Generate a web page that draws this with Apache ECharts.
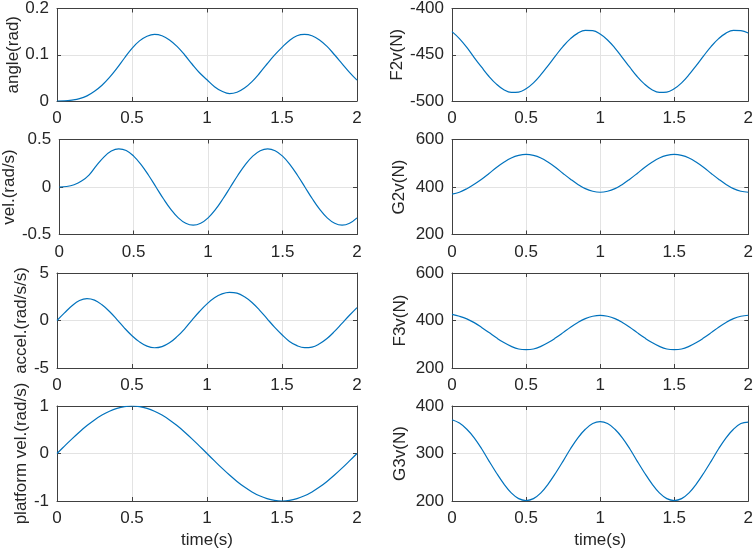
<!DOCTYPE html>
<html>
<head>
<meta charset="utf-8">
<script src="https://cdn.jsdelivr.net/npm/echarts@6/dist/echarts.min.js"></script>
<style>
html,body{margin:0;padding:0;background:#fff;}
#chart{width:756px;height:552px;}
</style>
</head>
<body>
<div id="chart"></div>
<script>
// ---- data ----
const time = [0,0.05,0.1,0.15,0.2,0.25,0.3,0.35,0.4,0.45,0.5,0.55,0.6,0.65,0.7,0.75,0.8,0.85,0.9,0.95,1,1.05,1.1,1.15,1.2,1.25,1.3,1.35,1.4,1.45,1.5,1.55,1.6,1.65,1.7,1.75,1.8,1.85,1.9,1.95,2];
const xTicks = [0, 0.5, 1, 1.5, 2];

const angle = [0,0.0003,0.002,0.005,0.011,0.021,0.034,0.051,0.071,0.093,0.114,0.130,0.140,0.144,0.141,0.132,0.118,0.100,0.080,0.061,0.046,0.031,0.021,0.016,0.019,0.028,0.042,0.060,0.080,0.099,0.116,0.131,0.141,0.144,0.141,0.132,0.118,0.100,0.081,0.062,0.045];
const vel = [0,0.005,0.024,0.062,0.125,0.225,0.315,0.378,0.402,0.385,0.325,0.236,0.124,0,-0.124,-0.236,-0.325,-0.382,-0.402,-0.382,-0.325,-0.236,-0.124,0,0.124,0.236,0.325,0.382,0.402,0.382,0.325,0.236,0.124,0,-0.124,-0.236,-0.325,-0.382,-0.402,-0.382,-0.325];
const accel = [0,0.8,1.55,2.1,2.31,2.15,1.65,0.95,0.1,-0.8,-1.6,-2.25,-2.7,-2.87,-2.75,-2.35,-1.7,-0.9,0.05,0.95,1.75,2.4,2.8,2.96,2.88,2.5,1.9,1.1,0.2,-0.7,-1.5,-2.2,-2.65,-2.86,-2.8,-2.45,-1.9,-1.15,-0.3,0.55,1.36];
const platformVel = [0,0.156,0.309,0.454,0.588,0.707,0.809,0.891,0.951,0.988,1,0.988,0.951,0.891,0.809,0.707,0.588,0.454,0.309,0.156,0,-0.156,-0.309,-0.454,-0.588,-0.707,-0.809,-0.891,-0.951,-0.988,-1,-0.988,-0.951,-0.891,-0.809,-0.707,-0.588,-0.454,-0.309,-0.156,0];
const F2v = [-425,-432.5,-442,-453,-463.5,-473.5,-481.8,-487.8,-490.7,-490.4,-486.8,-480.4,-471.6,-461.4,-450.9,-440.9,-432.6,-426.6,-423.7,-424,-427.6,-434,-442.8,-453,-463.5,-473.5,-481.8,-487.8,-490.7,-490.4,-486.8,-480.4,-471.6,-461.4,-450.9,-440.9,-432.6,-426.6,-423.7,-424,-426.5];
const G2v = [370,378,393,412,433,457,482,504,522,533,537,533,522,504,482,457,433,411,393,382,378,382,393,411,433,457,482,504,522,533,537,533,522,504,482,457,433,411,393,382,378];
const F3v = [426,418,407,391,371,349,327,307,291,280,277,280,291,307,327,349,372,392,408,418,422,418,408,392,372,349,327,307,291,280,277,280,291,307,327,349,372,392,408,418,422];
const G3v = [371,364,351,333,310,284,259,236,217,205,201,205,217,236,259,284,310,333,351,363,367,363,351,333,310,284,259,236,217,205,201,205,217,236,259,284,310,333,351,363,366];

const yNames = ['angle(rad)','vel.(rad/s)','accel.(rad/s/s)','platform vel.(rad/s)','F2v(N)','G2v(N)','F3v(N)','G3v(N)'];
const yMin = [0,-0.5,-5,-1,-500,200,200,200];
const yMax = [0.2,0.5,5,1,-400,600,600,400];
const yStep = [0.1,0.5,5,1,50,200,200,100];
const seriesData = [angle, vel, accel, platformVel, F2v, G2v, F3v, G3v];
const xName = 'time(s)';

// ---- layout ----
const colLeft = [57, 452];
const colWidth = [300, 298];
const rowTop = [6, 139.5, 273, 406];
const rowH = 95;
const nameGaps = [31, 40, 25, 25, 44, 44, 43, 43];

const FONT = "'Liberation Sans', Arial, Helvetica, sans-serif";
const TXT = '#262626';
const AX = '#404040';
const GRIDC = '#e3e3e3';
const FS = 17;

const grids = [], xAxes = [], yAxes = [], series = [];
for (let i = 0; i < 8; i++) {
  const col = i < 4 ? 0 : 1;
  const row = i % 4;
  grids.push({left: colLeft[col], top: rowTop[row], width: colWidth[col], height: rowH, containLabel: false});
  const gi = i;
  xAxes.push({
    type: 'value', gridIndex: gi, position: 'bottom', min: 0, max: 2, interval: 0.5,
    name: row === 3 ? xName : '', nameLocation: 'middle', nameGap: 31,
    nameTextStyle: {fontFamily: FONT, fontSize: FS, color: TXT},
    axisLine: {show: true, onZero: false, lineStyle: {color: AX, width: 1}},
    axisTick: {show: true, inside: true, length: 4, lineStyle: {color: AX}},
    axisLabel: {show: true, margin: 9, fontFamily: FONT, fontSize: FS, color: TXT,
      formatter: v => String(v)},
    splitLine: {show: true, lineStyle: {color: GRIDC, width: 1}}
  });
  xAxes.push({
    type: 'value', gridIndex: gi, position: 'top', min: 0, max: 2, interval: 0.5,
    axisLine: {show: true, onZero: false, lineStyle: {color: AX, width: 1}},
    axisTick: {show: true, inside: true, length: 4, lineStyle: {color: AX}},
    axisLabel: {show: false}, splitLine: {show: false}
  });
  yAxes.push({
    type: 'value', gridIndex: gi, position: 'left', min: yMin[i], max: yMax[i], interval: yStep[i],
    name: yNames[i], nameLocation: 'middle', nameGap: nameGaps[i], nameRotate: 90,
    nameTextStyle: {fontFamily: FONT, fontSize: FS, color: TXT},
    axisLine: {show: true, onZero: false, lineStyle: {color: AX, width: 1}},
    axisTick: {show: true, inside: true, length: 4, lineStyle: {color: AX}},
    axisLabel: {show: true, margin: 8, fontFamily: FONT, fontSize: FS, color: TXT,
      formatter: v => String(+v.toFixed(6))},
    splitLine: {show: true, lineStyle: {color: GRIDC, width: 1}}
  });
  yAxes.push({
    type: 'value', gridIndex: gi, position: 'right', min: yMin[i], max: yMax[i], interval: yStep[i],
    axisLine: {show: true, onZero: false, lineStyle: {color: AX, width: 1}},
    axisTick: {show: true, inside: true, length: 4, lineStyle: {color: AX}},
    axisLabel: {show: false}, splitLine: {show: false}
  });
  series.push({
    type: 'line', xAxisIndex: 2 * i, yAxisIndex: 2 * i,
    data: time.map((t, k) => [t, seriesData[i][k]]),
    showSymbol: false, symbol: 'none', smooth: 0.4,
    lineStyle: {color: '#0072BD', width: 1.2},
    animation: false, clip: true
  });
}

const chart = echarts.init(document.getElementById('chart'), null, {renderer: 'canvas'});
chart.setOption({
  backgroundColor: '#ffffff',
  animation: false,
  grid: grids,
  xAxis: xAxes,
  yAxis: yAxes,
  series: series
});
</script>
</body>
</html>
